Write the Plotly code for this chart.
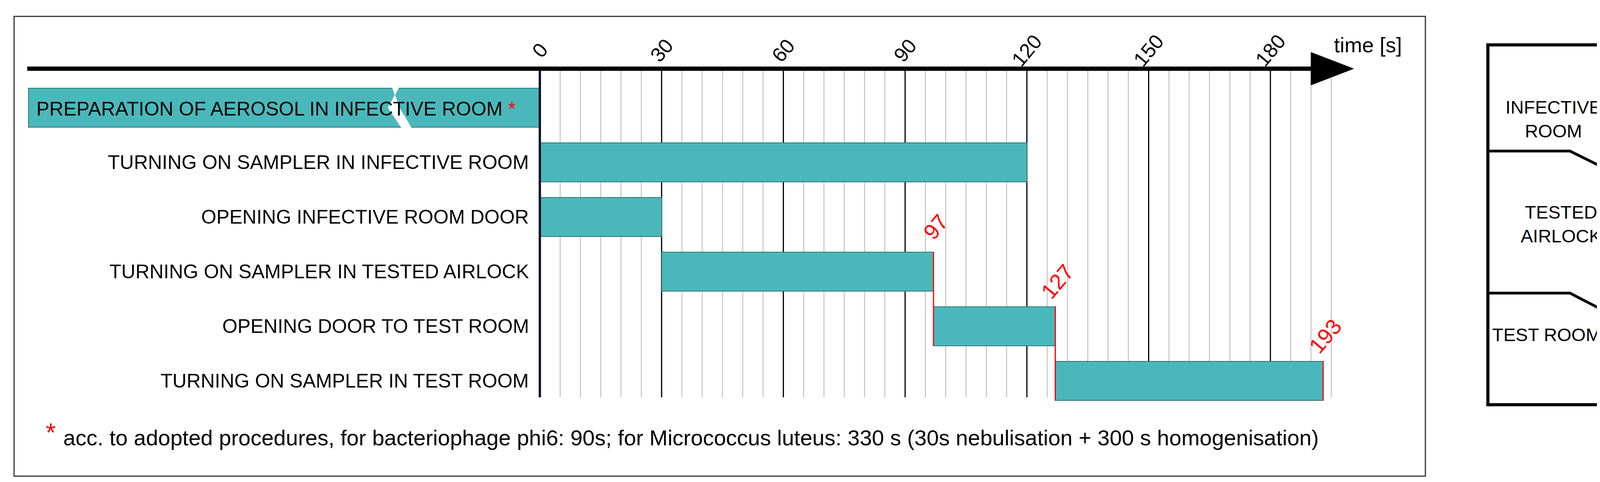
import plotly.graph_objects as go

# data
tasks = ["PREPARATION OF AEROSOL IN INFECTIVE ROOM",
         "TURNING ON SAMPLER IN INFECTIVE ROOM",
         "OPENING INFECTIVE ROOM DOOR",
         "TURNING ON SAMPLER IN TESTED AIRLOCK",
         "OPENING DOOR TO TEST ROOM",
         "TURNING ON SAMPLER IN TEST ROOM"]
start = [-126, 0, 0, 30, 97, 127]
finish = [0, 120, 30, 97, 127, 193]
marked_ends = [97, 127, 193]
major_ticks = [0, 30, 60, 90, 120, 150, 180]
minor_step = 5
footnote = "acc. to adopted procedures, for bacteriophage phi6: 90s; for Micrococcus luteus: 330 s (30s nebulisation + 300 s homogenisation)"
rooms = ["INFECTIVE<br>ROOM", "TESTED<br>AIRLOCK", "TEST ROOM"]

W, H = 4398, 1235
TEAL = "#4ab8bb"
NARROW = "Liberation Sans Narrow, Liberation Sans, Arial"
ARIAL = "Liberation Sans, Arial"

rows = list(range(len(tasks)))
fig = go.Figure()
fig.add_trace(go.Bar(
    y=rows, x=[f - s for s, f in zip(start, finish)], base=start,
    orientation="h", width=0.72, marker=dict(color=TEAL, line=dict(color="#2f7476", width=2)),
    hoverinfo="skip", showlegend=False))

shapes = []
axis_y = -0.714
grid_bottom = 5.3
# minor and major grid lines
for t in range(0, 200, minor_step):
    if t in major_ticks:
        continue
    shapes.append(dict(type="line", xref="x", yref="y", x0=t, x1=t, y0=axis_y, y1=grid_bottom,
                       line=dict(color="#b5b5b5", width=2), layer="below"))
for t in major_ticks:
    shapes.append(dict(type="line", xref="x", yref="y", x0=t, x1=t, y0=axis_y, y1=grid_bottom,
                       line=dict(color="#111133" if t == 0 else "black", width=6 if t == 0 else 3),
                       layer="below" if t else "above"))
# time axis with arrow
shapes.append(dict(type="line", xref="x", yref="y", x0=-126.3, x1=191, y0=axis_y, y1=axis_y,
                   line=dict(color="black", width=11)))
shapes.append(dict(type="path", xref="x", yref="y",
                   path=f"M 190,{axis_y-0.3} L 200.5,{axis_y} L 190,{axis_y+0.3} Z",
                   fillcolor="black", line=dict(color="black", width=1)))
# break in preparation bar
shapes.append(dict(type="path", xref="x", yref="y",
                   path="M -36.5,-0.4 L -34.5,-0.4 L -37.4,0 L -33.8,0.4 L -31.4,0.4 L -34.6,0 Z",
                   fillcolor="white", line=dict(color="white", width=1)))
# red end markers
for i, e in enumerate(marked_ends):
    r = rows[3 + i]
    y1 = r + 0.36 if i == 2 else r + 1.36
    shapes.append(dict(type="line", xref="x", yref="y", x0=e, x1=e, y0=r - 0.36, y1=y1,
                       line=dict(color="red", width=3)))
# outer frame
shapes.append(dict(type="rect", xref="paper", yref="paper", x0=28 / W, x1=3641 / W,
                   y0=1 - 1212 / H, y1=1 - 34 / H, line=dict(color="#333", width=3)))

# room plan on the right (paper pixels)
def px(x): return x / W
def py(y): return 1 - y / H
shapes.append(dict(type="rect", xref="paper", yref="paper", x0=px(3801), x1=px(4384),
                   y0=py(1029), y1=py(107), line=dict(color="black", width=8)))
for wy, dy in [(379, 446), (743, 813)]:
    shapes.append(dict(type="path", xref="paper", yref="paper",
                       path=f"M {px(3801)},{py(wy)} L {px(4011)},{py(wy)} L {px(4146)},{py(dy)}",
                       line=dict(color="black", width=7)))
    shapes.append(dict(type="line", xref="paper", yref="paper", x0=px(4151), x1=px(4384),
                       y0=py(wy), y1=py(wy), line=dict(color="black", width=7)))

ann = []
for t in major_ticks:
    ann.append(dict(x=t, y=-1.05, xref="x", yref="y", text=str(t), showarrow=False,
                    textangle=-50, font=dict(family=ARIAL, size=52, color="black")))
ann.append(dict(x=204, y=-1.15, xref="x", yref="y", text="time [s]", showarrow=False,
                font=dict(family=ARIAL, size=54, color="black")))
for i, label in enumerate(tasks):
    if i == 0:
        ann.append(dict(x=-65, y=0.02, xref="x", yref="y", showarrow=False,
                        text=label + ' <span style="color:red">*</span>',
                        font=dict(family=NARROW, size=50, color="black")))
    else:
        ann.append(dict(x=-2.5, y=i, xref="x", yref="y", text=label, showarrow=False,
                        xanchor="right", font=dict(family=NARROW, size=50, color="black")))
for i, e in enumerate(marked_ends):
    ann.append(dict(x=e + 0.5, y=rows[3 + i] - 0.82, xref="x", yref="y", text=str(e), showarrow=False,
                    textangle=-50, font=dict(family=ARIAL, size=56, color="red")))
ann.append(dict(x=-117.6, y=6.04, xref="x", yref="y", text=footnote, showarrow=False,
                xanchor="left", font=dict(family=ARIAL, size=56, color="black")))
ann.append(dict(x=-120.5, y=5.94, xref="x", yref="y", text="*", showarrow=False,
                font=dict(family=ARIAL, size=66, color="red")))
for (cy, txt) in zip([238, 566, 878], rooms):
    ann.append(dict(x=px(4093), y=py(cy), xref="paper", yref="paper", text=txt, showarrow=False,
                    font=dict(family=ARIAL, size=47, color="black")))

x_per_px = 1 / 10.39
fig.update_layout(
    width=W, height=H, margin=dict(l=0, r=0, t=0, b=0),
    paper_bgcolor="white", plot_bgcolor="white",
    shapes=shapes, annotations=ann, bargap=0,
    xaxis=dict(range=[-1374 * x_per_px, (W - 1374) * x_per_px], visible=False, fixedrange=True),
    yaxis=dict(range=[(H - 268) / 140, -268 / 140], visible=False, fixedrange=True),
)
fig.write_html("out.html")
